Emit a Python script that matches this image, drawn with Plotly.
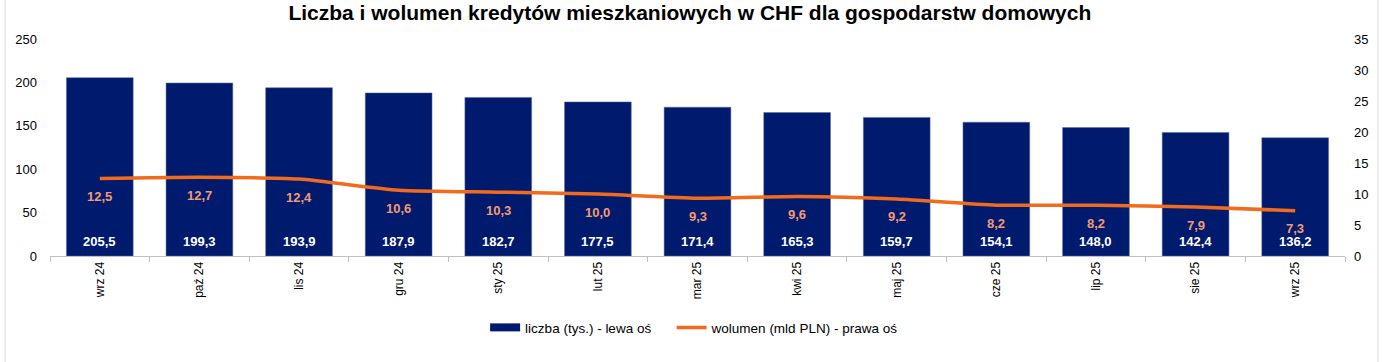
import plotly.graph_objects as go

categories = ["wrz 24", "paź 24", "lis 24", "gru 24", "sty 25", "lut 25", "mar 25",
              "kwi 25", "maj 25", "cze 25", "lip 25", "sie 25", "wrz 25"]
liczba = [205.5, 199.3, 193.9, 187.9, 182.7, 177.5, 171.4, 165.3, 159.7, 154.1, 148.0, 142.4, 136.2]
wolumen = [12.5, 12.7, 12.4, 10.6, 10.3, 10.0, 9.3, 9.6, 9.2, 8.2, 8.2, 7.9, 7.3]

def pl(v):
    return f"{v:.1f}".replace(".", ",")

FONT = "Liberation Sans, Arial, sans-serif"
NAVY = "#001A6E"

fig = go.Figure()
fig.add_trace(go.Bar(
    x=categories, y=liczba, name="liczba (tys.) - lewa oś", showlegend=False,
    marker=dict(color=NAVY, line=dict(color="#5A6A9A", width=0.5)),
))
# legend entry for bars drawn as a wide rectangle
fig.add_trace(go.Scatter(
    x=[categories[0]], y=[None], name="liczba (tys.) - lewa oś", mode="lines",
    line=dict(color=NAVY, width=8), hoverinfo="skip", legend="legend",
))
fig.add_trace(go.Scatter(
    x=categories, y=wolumen, name="wolumen (mld PLN) - prawa oś", yaxis="y2",
    mode="lines", line=dict(color="#F26A1B", width=3.5, shape="spline", smoothing=0.6),
    legend="legend2",
))

annotations = []
for c, v in zip(categories, liczba):
    annotations.append(dict(
        x=c, y=0, xref="x", yref="y", text=f"<b>{pl(v)}</b>", showarrow=False,
        yshift=15, font=dict(color="white", size=13, family=FONT),
    ))
for c, v in zip(categories, wolumen):
    annotations.append(dict(
        x=c, y=v, xref="x", yref="y2", text=f"<b>{pl(v)}</b>", showarrow=False,
        yshift=-18, font=dict(color="#F39A73", size=13, family=FONT),
    ))

leg_common = dict(orientation="h", y=-0.33, yanchor="middle", xanchor="left",
                  font=dict(size=13.5, family=FONT), itemwidth=30)

fig.update_layout(
    width=1388, height=362,
    margin=dict(l=50, r=43, t=39, b=106),
    paper_bgcolor="white", plot_bgcolor="white",
    font=dict(family=FONT, size=13, color="black"),
    title=dict(text="<b>Liczba i wolumen kredytów mieszkaniowych w CHF dla gospodarstw domowych</b>",
               x=0.497, xanchor="center", y=0.966, yanchor="middle",
               font=dict(size=21, family=FONT, color="black")),
    bargap=0.33,
    showlegend=True,
    legend=dict(x=0.336, **leg_common),
    legend2=dict(x=0.480, **leg_common),
    xaxis=dict(type="category", tickangle=-90, tickson="boundaries", ticks="outside",
               ticklen=5, tickcolor="#BFBFBF", showline=True, linecolor="#BFBFBF",
               linewidth=1, tickfont=dict(size=12), showgrid=False, automargin=False),
    yaxis=dict(range=[0, 250], dtick=50, showgrid=False, showline=False, zeroline=False,
               tickfont=dict(size=13), ticks="", ticklabelstandoff=12, automargin=False),
    yaxis2=dict(range=[0, 35], dtick=5, overlaying="y", side="right", showgrid=False,
                showline=False, zeroline=False, tickfont=dict(size=13), ticks="",
                ticklabelstandoff=8, automargin=False),
    annotations=annotations,
    shapes=[
        dict(type="line", xref="paper", yref="paper", x0=-0.0347, x1=-0.0347, y0=-2, y1=2,
             line=dict(color="#D9D9D9", width=1)),
        dict(type="line", xref="paper", yref="paper", x0=1.0255, x1=1.0255, y0=-2, y1=2,
             line=dict(color="#D9D9D9", width=1)),
    ],
)
fig.write_html("out.html", config={"displayModeBar": False},
               post_script="document.body.style.margin='0';document.body.style.overflow='hidden';")
